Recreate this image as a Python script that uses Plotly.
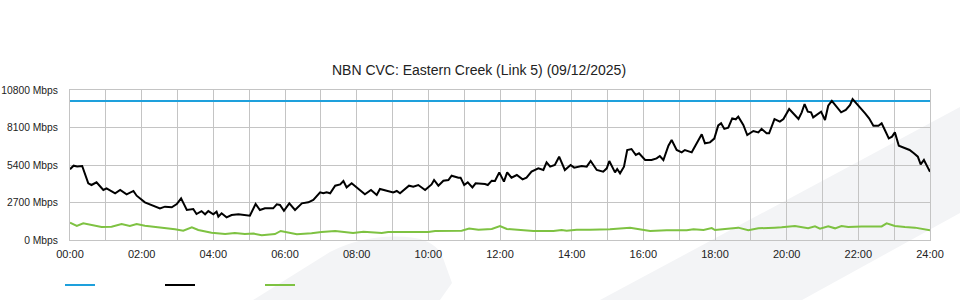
import plotly.graph_objects as go

# ---------------- data ----------------
title_text = "NBN CVC: Eastern Creek (Link 5) (09/12/2025)"

capacity_hours = [0, 24]
capacity_mbps = [10000, 10000]

down_hours = [0.00, 0.10, 0.20, 0.34, 0.51, 0.60, 0.74, 0.93, 1.02, 1.26, 1.40, 1.58, 1.77, 1.86,
              2.09, 2.28, 2.51, 2.65, 2.84, 2.98, 3.10, 3.26, 3.44, 3.53, 3.67, 3.77, 3.86, 4.00,
              4.09, 4.14, 4.23, 4.37, 4.51, 4.70, 5.02, 5.18, 5.30, 5.44, 5.67, 5.77, 5.86, 5.97,
              6.12, 6.28, 6.47, 6.65, 6.79, 6.98, 7.07, 7.16, 7.26, 7.40, 7.54, 7.63, 7.72, 7.86,
              8.05, 8.23, 8.40, 8.56, 8.65, 8.84, 9.02, 9.12, 9.21, 9.46, 9.58, 9.72, 9.91, 10.09,
              10.16, 10.28, 10.42, 10.56, 10.65, 10.84, 10.90, 11.00, 11.10, 11.23, 11.32, 11.58,
              11.66, 11.77, 11.86, 11.98, 12.11, 12.20, 12.32, 12.47, 12.63, 12.74, 12.88, 13.07,
              13.21, 13.30, 13.40, 13.53, 13.65, 13.81, 13.97, 14.07, 14.28, 14.42, 14.53, 14.70,
              14.88, 14.98, 15.05, 15.21, 15.27, 15.35, 15.46, 15.55, 15.67, 15.79, 15.88, 16.05,
              16.23, 16.37, 16.46, 16.56, 16.70, 16.79, 16.93, 17.07, 17.16, 17.35, 17.49, 17.63,
              17.72, 17.86, 17.98, 18.09, 18.17, 18.26, 18.37, 18.48, 18.58, 18.65, 18.79, 18.90,
              19.07, 19.21, 19.30, 19.44, 19.51, 19.66, 19.81, 19.91, 20.07, 20.19, 20.33, 20.42,
              20.50, 20.59, 20.68, 20.74, 20.89, 20.96, 21.07, 21.16, 21.26, 21.35, 21.52, 21.65,
              21.77, 21.84, 21.95, 22.08, 22.19, 22.30, 22.42, 22.56, 22.65, 22.74, 22.85, 22.94,
              23.02, 23.13, 23.25, 23.34, 23.43, 23.55, 23.66, 23.74, 23.83, 23.94, 24.00]
down_mbps = [5100, 5350, 5300, 5330, 4080, 3960, 4150, 3600, 3720, 3360, 3600, 3290, 3530, 3190,
             2710, 2520, 2280, 2400, 2360, 2590, 3000, 2160, 2230, 1870, 2080, 1850, 2080, 1850,
             2040, 1680, 1920, 1630, 1800, 1850, 1750, 2590, 2160, 2280, 2280, 2570, 2520, 2100,
             2640, 2160, 2640, 2710, 2880, 3430, 3360, 3430, 3360, 3910, 4000, 4250, 3790, 4080,
             3670, 3290, 3600, 3240, 3670, 3530, 3430, 3530, 3360, 3910, 3830, 3960, 3600, 4000,
             4320, 3910, 4270, 4320, 4630, 4490, 4490, 3960, 4150, 3790, 4080, 4030,
             3960, 4270, 4250, 4870, 4200, 4870, 4490, 4680, 4370, 4490, 4920, 5160,
             5040, 5590, 5280, 5400, 6000, 5040, 5400, 5210, 5330, 5280, 5690, 5040,
             4920, 5160, 5690, 4870, 5110, 4800, 5280, 6480, 6550, 6120, 6240, 5760,
             5760, 5880, 6050, 5760, 6790, 7200, 6480, 6310, 6480, 6310, 6960, 7610,
             6960, 7030, 7300, 8250, 8400, 8000, 8090, 8760, 8690, 8880, 8280, 7560,
             7850, 7750, 8000, 7680, 7680, 8710, 8520, 8710, 9430, 9120, 8710, 9190,
             9790, 9240, 9190, 8830, 9120, 9240, 8640, 9670, 10010, 9720, 9190, 9360,
             9720, 10150, 9840, 9430, 9120, 8760, 8230, 8230, 8400, 7920, 7320, 7440,
             7750, 6790, 6650, 6550, 6480, 6240, 6000, 5450, 5760, 5210, 4920]

up_hours = [0.00, 0.19, 0.37, 0.60, 0.88, 1.16, 1.44, 1.67, 1.86, 2.09, 2.37, 2.65, 2.93, 3.16,
            3.40, 3.58, 3.95, 4.33, 4.60, 4.88, 5.12, 5.35, 5.58, 5.72, 5.88, 6.05, 6.33, 6.74,
            7.02, 7.40, 7.67, 7.90, 8.19, 8.70, 8.88, 9.25, 10.00, 10.19, 10.65, 10.93, 11.14,
            11.40, 11.77, 12.00, 12.19, 12.56, 12.93, 13.49, 13.72, 13.86, 14.14, 14.51, 15.07,
            15.63, 16.00, 16.19, 16.65, 17.21, 17.40, 17.68, 17.91, 18.00, 18.28, 18.65, 18.93,
            19.21, 19.67, 19.86, 20.23, 20.60, 20.79, 20.93, 21.16, 21.35, 21.53, 21.72, 22.09,
            22.65, 22.79, 23.02, 23.30, 23.58, 24.00]
up_mbps = [1250, 1010, 1200, 1080, 940, 960, 1150, 1010, 1150, 1030, 960, 840, 770, 670,
           910, 720, 530, 430, 500, 430, 460, 340, 410, 430, 650, 560, 410, 480,
           580, 650, 550, 500, 600, 500, 580, 580, 580, 650, 670, 670, 820,
           740, 790, 1010, 790, 720, 650, 650, 720, 670, 740, 740, 770,
           890, 740, 650, 700, 700, 770, 720, 860, 720, 790, 890, 700,
           840, 890, 910, 1010, 840, 980, 820, 980, 840, 1010, 940, 980,
           980, 1200, 1010, 940, 890, 700]

x_tick_hours = list(range(0, 25))
x_tick_labels = [f"{h:02d}:00" if h % 2 == 0 else "" for h in x_tick_hours]
y_tick_values = [0, 2700, 5400, 8100, 10800]
y_tick_labels = [f"{v} Mbps" for v in y_tick_values]

# ---------------- figure ----------------
W, H = 960, 300
L, R, T, B = 70, 30, 90, 60
PW, PH = W - L - R, H - T - B

def px(x, y):
    return (x - L) / PW, (H - B - y) / PH

def path(cmds):
    out = []
    for c in cmds:
        if isinstance(c, str):
            out.append(c)
        else:
            xp, yp = px(*c)
            out.append(f"{xp:.4f},{yp:.4f}")
    return " ".join(out)

fig = go.Figure()
fig.add_trace(go.Scatter(x=capacity_hours, y=capacity_mbps, mode="lines", name="",
                         line=dict(color="#1ea0dc", width=2)))
fig.add_trace(go.Scatter(x=down_hours, y=down_mbps, mode="lines", name="",
                         line=dict(color="#000000", width=2)))
fig.add_trace(go.Scatter(x=up_hours, y=up_mbps, mode="lines", name="",
                         line=dict(color="#7ec242", width=2)))

wm = "#f3f4f6"
shapes = [
    dict(type="path", xref="paper", yref="paper", layer="below", line=dict(width=0), fillcolor=wm,
         path=path(["M", (600, 300), "L", (960, 107), "L", (960, 213), "L", (802, 300), "Z"])),
    dict(type="path", xref="paper", yref="paper", layer="below", line=dict(width=0), fillcolor=wm,
         path=path(["M", (253, 300), "L", (330, 252), "Q", (370, 232), (415, 238),
                    "Q", (437, 242), (443, 258), "L", (452, 283), "L", (440, 300), "Z"])),
]

grid = "#c4c4c4"
fig.update_layout(
    width=W, height=H,
    margin=dict(l=L, r=R, t=T, b=B, autoexpand=False),
    paper_bgcolor="white", plot_bgcolor="rgba(0,0,0,0)",
    font=dict(family="Liberation Sans, Arial, sans-serif", size=11, color="#222222"),
    title=dict(text=title_text, x=479 / W, xanchor="center", xref="container",
               y=1 - 70 / H, yanchor="middle", yref="container",
               font=dict(size=14, color="#222222")),
    showlegend=True,
    legend=dict(orientation="h", x=(60 - L) / PW, xanchor="left", y=(H - B - 285) / PH,
                yanchor="middle", entrywidth=55, font=dict(size=11),
                bgcolor="rgba(0,0,0,0)"),
    shapes=shapes,
    xaxis=dict(range=[0, 24], tickmode="array", tickvals=x_tick_hours, ticktext=x_tick_labels,
               showgrid=True, gridcolor=grid, gridwidth=1, zeroline=False, automargin=False,
               showline=True, linecolor=grid, linewidth=1, mirror=True,
               ticks="", ticklabelstandoff=4, tickfont=dict(size=11, color="#222222")),
    yaxis=dict(range=[0, 10800], tickmode="array", tickvals=y_tick_values, ticktext=y_tick_labels,
               showgrid=True, gridcolor=grid, gridwidth=1, zeroline=False, automargin=False,
               showline=True, linecolor=grid, linewidth=1, mirror=True,
               ticks="", ticklabelstandoff=9, tickfont=dict(size=10.3, color="#222222")),
)

fig.write_html("out.html")
